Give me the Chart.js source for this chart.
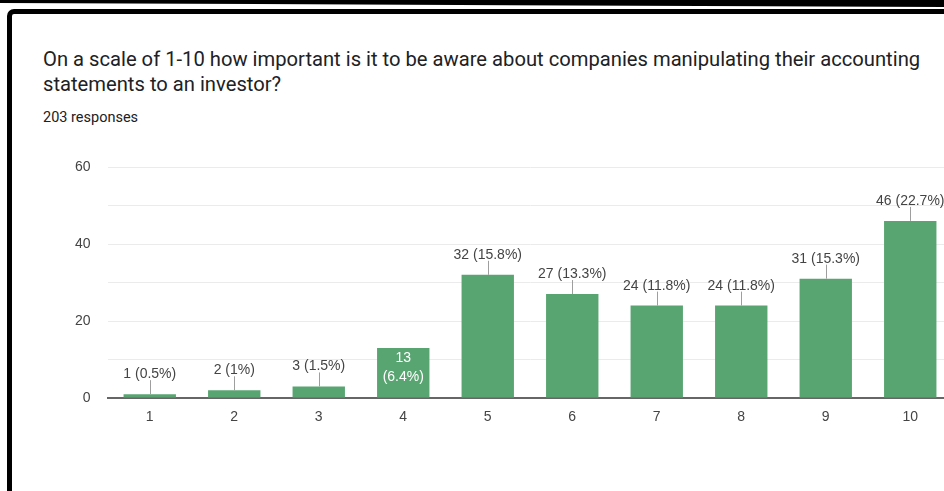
<!DOCTYPE html>
<html>
<head>
<meta charset="utf-8">
<script src="https://cdn.jsdelivr.net/npm/chart.js@4.4.0/dist/chart.umd.min.js"></script>
<style>
  html, body { margin: 0; padding: 0; background: #fff; overflow: hidden; }
  body { width: 944px; height: 491px; position: relative; }
  #band {
    position: absolute; left: 0; top: 0; width: 944px; height: 8px; background: #000;
    clip-path: polygon(0 0, 100% 0, 100% 7px, 0 3px);
  }
  #box {
    position: absolute; left: 7px; top: 9px; width: 1000px; height: 600px;
    border: 5px solid #000; border-radius: 7px; box-sizing: border-box;
  }
  #title {
    position: absolute; left: 43px; top: 47px; width: 900px;
    font-family: Roboto, sans-serif; font-size: 20.2px; line-height: 25px; color: #202124;
  }
  #sub {
    position: absolute; left: 43px; top: 109px;
    font-family: Roboto, sans-serif; font-size: 14.5px; line-height: 17px; color: #202124;
  }
  #wrap { position: absolute; left: 0; top: 130px; width: 1000px; height: 320px; }
</style>
</head>
<body>
<div id="band"></div>
<div id="box"></div>
<div id="title">On a scale of 1-10 how important is it to be aware about companies manipulating their accounting statements to an investor?</div>
<div id="sub">203 responses</div>
<div id="wrap"><canvas id="chart"></canvas></div>

<script>
const categories = ['1', '2', '3', '4', '5', '6', '7', '8', '9', '10'];
const responses = [1, 2, 3, 13, 32, 27, 24, 24, 31, 46];
const percents = ['0.5%', '1%', '1.5%', '6.4%', '15.8%', '13.3%', '11.8%', '11.8%', '15.3%', '22.7%'];
const labelInside = [false, false, false, true, false, false, false, false, false, false];

const labelFont = '14px "Liberation Sans", Arial, sans-serif';

// value labels with short leader lines, like Google Forms
const barLabels = {
    id: 'barLabels',
    afterDatasetsDraw(chart) {
        const ctx = chart.ctx;
        const meta = chart.getDatasetMeta(0);
        ctx.save();
        ctx.font = labelFont;
        ctx.textAlign = 'center';
        meta.data.forEach((bar, i) => {
            const x = bar.x;
            const top = bar.y;
            if (labelInside[i]) {
                ctx.fillStyle = '#ffffff';
                ctx.textBaseline = 'middle';
                ctx.fillText(String(responses[i]), x, top + 10);
                ctx.fillText('(' + percents[i] + ')', x, top + 29);
            } else {
                ctx.strokeStyle = '#9e9e9e';
                ctx.lineWidth = 1;
                ctx.beginPath();
                ctx.moveTo(Math.round(x) + 0.5, top - 14);
                ctx.lineTo(Math.round(x) + 0.5, top);
                ctx.stroke();
                ctx.fillStyle = '#444444';
                ctx.textBaseline = 'alphabetic';
                ctx.fillText(responses[i] + ' (' + percents[i] + ')', x, top - 16);
            }
        });
        ctx.restore();
    }
};

new Chart(document.getElementById('chart'), {
    type: 'bar',
    data: {
        labels: categories,
        datasets: [{
            data: responses,
            backgroundColor: '#59a571',
            barPercentage: 0.62,
            categoryPercentage: 1
        }]
    },
    options: {
        responsive: true,
        maintainAspectRatio: false,
        animation: false,
        layout: { padding: { top: 37, right: 47.5, bottom: 22, left: 0 } },
        plugins: {
            legend: { display: false },
            tooltip: { enabled: false }
        },
        scales: {
            x: {
                grid: { display: false, drawTicks: false },
                border: { color: '#666666', width: 2 },
                ticks: {
                    color: '#444444',
                    padding: 11,
                    font: { family: '"Liberation Sans", Arial, sans-serif', size: 14 }
                },
                afterFit: (scale) => { scale.height = 30; }
            },
            y: {
                min: 0,
                max: 60,
                grid: {
                    drawTicks: false,
                    color: (c) => c.tick && c.tick.value === 0 ? 'rgba(0,0,0,0)' : '#ebebeb'
                },
                border: { display: false },
                ticks: {
                    stepSize: 10,
                    color: '#444444',
                    padding: 17,
                    font: { family: '"Liberation Sans", Arial, sans-serif', size: 14 },
                    callback: (v) => v % 20 === 0 ? v : ''
                },
                afterFit: (scale) => { scale.width = 107.5; }
            }
        }
    },
    plugins: [barLabels]
});
</script>
</body>
</html>
